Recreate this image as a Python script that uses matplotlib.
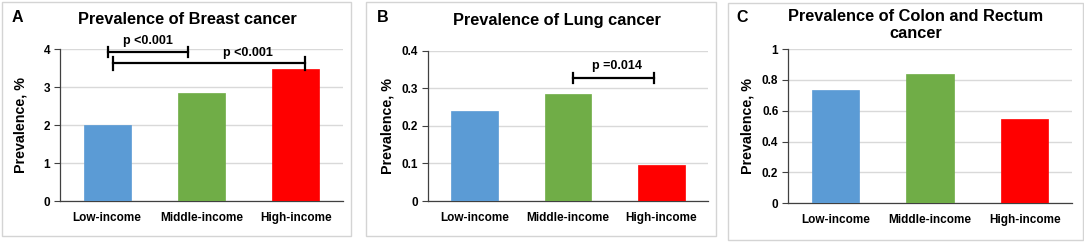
import matplotlib
matplotlib.use("Agg")
import matplotlib.pyplot as plt
from matplotlib.patches import Rectangle

W, H = 1084, 242

categories = ["Low-income", "Middle-income", "High-income"]
colors = ["#5B9BD5", "#70AD47", "#FF0000"]

breast = [1.99, 2.85, 3.48]
lung = [0.24, 0.285, 0.095]
colon = [0.735, 0.835, 0.545]

titles = ["Prevalence of Breast cancer", "Prevalence of Lung cancer",
          "Prevalence of Colon and Rectum\ncancer"]
letters = ["A", "B", "C"]

plt.rcParams["font.family"] = ["Liberation Sans", "DejaVu Sans"]
plt.rcParams["font.weight"] = "bold"

fig = plt.figure(figsize=(W / 100, H / 100), dpi=100)


def fx(x):
    return x / W


def fy(y):
    return 1 - y / H


def add_ax(left, right, top, bottom):
    return fig.add_axes([fx(left), fy(bottom), fx(right - left), (bottom - top) / H])


# panel frames (pixels: x0, y0, x1, y1)
frames = [(2, 2, 351, 236), (366, 2, 716, 236), (728, 3, 1083, 240)]
for x0, y0, x1, y1 in frames:
    fig.patches.append(Rectangle((fx(x0), fy(y1)), fx(x1 - x0), (y1 - y0) / H,
                                 transform=fig.transFigure, fill=False,
                                 edgecolor="#d4d4d4", linewidth=1.0))

axes_px = [(60, 343, 49, 201), (428, 708, 50.7, 201), (788, 1072, 49, 203.3)]
data = [breast, lung, colon]
ylims = [(0, 4), (0, 0.4), (0, 1)]
yticks = [[0, 1, 2, 3, 4], [0, 0.1, 0.2, 0.3, 0.4], [0, 0.2, 0.4, 0.6, 0.8, 1]]
ytick_labels = [["0", "1", "2", "3", "4"], ["0", "0.1", "0.2", "0.3", "0.4"],
                ["0", "0.2", "0.4", "0.6", "0.8", "1"]]

axs = []
for i in range(3):
    ax = add_ax(*axes_px[i])
    ax.bar(range(3), data[i], width=0.5, color=colors, zorder=3,
           edgecolor=[c for c in colors], linewidth=0.5)
    ax.set_xlim(-0.5, 2.5)
    ax.set_ylim(*ylims[i])
    ax.set_yticks(yticks[i])
    ax.set_yticklabels(ytick_labels[i], fontsize=8.5, fontweight="bold")
    ax.set_xticks(range(3))
    ax.set_xticklabels(categories, fontsize=8.5, fontweight="bold")
    ax.tick_params(axis="x", length=0, pad=8)
    ax.tick_params(axis="y", length=4, width=0.8, pad=3, color="#404040")
    ax.yaxis.grid(True, color="#d9d9d9", linewidth=1.0, zorder=0)
    ax.set_axisbelow(True)
    for s in ["top", "right"]:
        ax.spines[s].set_visible(False)
    ax.spines["left"].set_color("#404040")
    ax.spines["bottom"].set_color("#404040")
    ax.spines["left"].set_linewidth(0.9)
    ax.spines["bottom"].set_linewidth(0.9)
    axs.append(ax)

# titles, panel letters, y labels (pixel positions)
title_pos = [(187, 20), (557, 20), (916, 25)]
letter_pos = [(17.5, 18), (382.5, 18), (742, 18)]
ylabel_x = [20.7, 387, 747]
for i in range(3):
    fig.text(fx(title_pos[i][0]), fy(title_pos[i][1]), titles[i], fontsize=11.8,
             fontweight="bold", ha="center", va="center", linespacing=1.15)
    fig.text(fx(letter_pos[i][0]), fy(letter_pos[i][1]), letters[i], fontsize=11.5,
             fontweight="bold", ha="center", va="center")
    yc = (axes_px[i][2] + axes_px[i][3]) / 2
    fig.text(fx(ylabel_x[i]), fy(yc), "Prevalence, %", fontsize=10.3,
             fontweight="bold", ha="center", va="center", rotation=90)


def bracket(ax, x0, x1, y, dy, label, tx, ty):
    kw = dict(color="black", linewidth=1.6, clip_on=False, zorder=5)
    ax.plot([x0, x1], [y, y], **kw)
    ax.plot([x0, x0], [y - dy, y + dy], **kw)
    ax.plot([x1, x1], [y - dy, y + dy], **kw)
    ax.text(tx, ty, label, fontsize=9, fontweight="bold", ha="center", va="center",
            clip_on=False)


bracket(axs[0], 0.01, 0.86, 3.92, 0.13, "p <0.001", 0.43, 4.22)
bracket(axs[0], 0.06, 2.10, 3.63, 0.17, "p <0.001", 1.49, 3.89)
bracket(axs[1], 1.05, 1.92, 0.328, 0.013, "p =0.014", 1.53, 0.359)

fig.savefig("out.png", dpi=100)
